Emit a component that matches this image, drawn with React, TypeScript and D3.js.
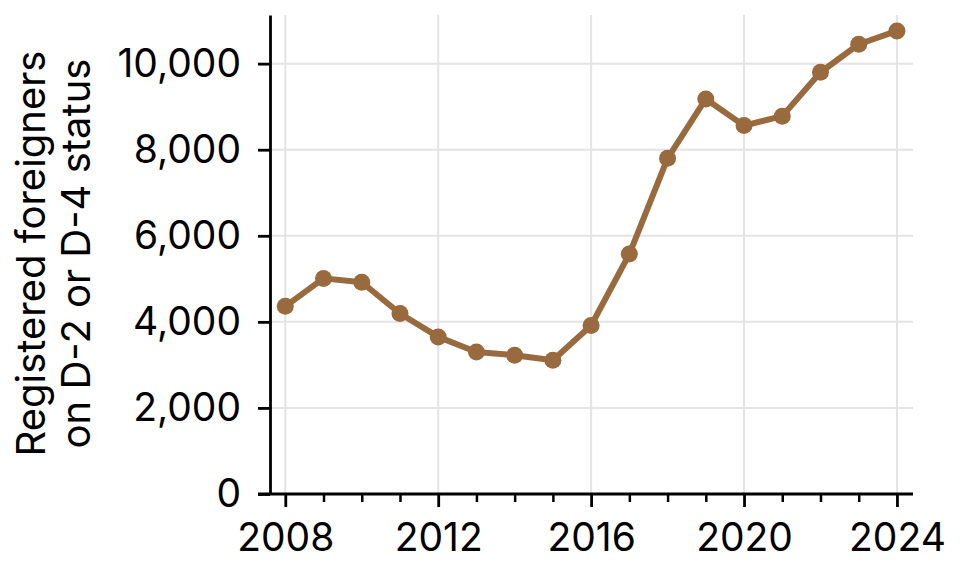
import React, { useRef, useEffect } from "react";
import { select, scaleLinear, axisBottom, axisLeft, line, format, range } from "d3";

const years = [2008, 2009, 2010, 2011, 2012, 2013, 2014, 2015, 2016, 2017, 2018, 2019, 2020, 2021, 2022, 2023, 2024];
const registered = [4360, 5010, 4920, 4195, 3650, 3300, 3225, 3110, 3915, 5575, 7800, 9180, 8560, 8780, 9800, 10450, 10760];
const yearTicks = [2008, 2012, 2016, 2020, 2024];
const valueTicks = [0, 2000, 4000, 6000, 8000, 10000];
const labelLines = ["Registered foreigners", "on D-2 or D-4 status"];

const W = 962;
const H = 576;
const margin = { top: 15, right: 49, bottom: 82, left: 270 };
const FONT = "Inter, 'Noto Sans', sans-serif";
const LINE_COLOR = "#986a3d";

const App: React.FC = () => {
  const svgRef = useRef<SVGSVGElement>(null);

  useEffect(() => {
    const svg = select(svgRef.current);
    svg.selectAll("*").remove();

    const innerWidth = W - margin.left - margin.right;
    const innerHeight = H - margin.top - margin.bottom;

    const x = scaleLinear().domain([2007.6, 2024.42]).range([0, innerWidth]);
    const y = scaleLinear().domain([0, 11130]).range([innerHeight, 0]);

    const g = svg.append("g").attr("transform", `translate(${margin.left},${margin.top})`);

    // grid
    g.append("g")
      .selectAll("line")
      .data(valueTicks.filter((v) => v > 0))
      .join("line")
      .attr("x1", 0)
      .attr("x2", innerWidth)
      .attr("y1", (d) => y(d))
      .attr("y2", (d) => y(d))
      .attr("stroke", "#e4e4e4")
      .attr("stroke-width", 2);
    g.append("g")
      .selectAll("line")
      .data(yearTicks)
      .join("line")
      .attr("x1", (d) => x(d))
      .attr("x2", (d) => x(d))
      .attr("y1", 0)
      .attr("y2", innerHeight)
      .attr("stroke", "#e4e4e4")
      .attr("stroke-width", 2);

    // minor x ticks
    const minor = range(2008, 2025).filter((yr) => !yearTicks.includes(yr));
    g.append("g")
      .attr("transform", `translate(0,${innerHeight})`)
      .call(axisBottom(x).tickValues(minor).tickSize(8).tickFormat(() => ""))
      .call((a) => a.select(".domain").remove())
      .call((a) => a.selectAll("line").attr("stroke", "#000").attr("stroke-width", 2.5));

    // major x axis
    const xAxisG = g
      .append("g")
      .attr("transform", `translate(0,${innerHeight})`)
      .call(axisBottom(x).tickValues(yearTicks).tickSize(13).tickSizeOuter(0).tickPadding(16).tickFormat(format("d")));

    const yAxisG = g
      .append("g")
      .call(axisLeft(y).tickValues(valueTicks).tickSize(12).tickSizeOuter(0).tickPadding(17).tickFormat(format(",")));

    [xAxisG, yAxisG].forEach((axisG) => {
      axisG.selectAll("path, line").attr("stroke", "#000").attr("stroke-width", 2.8);
      axisG.selectAll("text").attr("fill", "#000").attr("font-family", FONT).attr("font-size", 39);
    });
    xAxisG.select(".domain").attr("d", `M-12,0H${innerWidth}`);

    // line
    const lineGen = line<number>()
      .x((_, i) => x(years[i]))
      .y((d) => y(d));
    g.append("path")
      .datum(registered)
      .attr("fill", "none")
      .attr("stroke", LINE_COLOR)
      .attr("stroke-width", 6)
      .attr("stroke-linejoin", "round")
      .attr("d", lineGen);

    g.append("g")
      .selectAll("circle")
      .data(registered)
      .join("circle")
      .attr("cx", (_, i) => x(years[i]))
      .attr("cy", (d) => y(d))
      .attr("r", 8.5)
      .attr("fill", LINE_COLOR);

    // y label
    const label = svg
      .append("text")
      .attr("transform", `translate(45,${margin.top + innerHeight / 2 - 1}) rotate(-90)`)
      .attr("text-anchor", "middle")
      .attr("font-family", FONT)
      .attr("font-size", 40)
      .attr("fill", "#000");
    labelLines.forEach((t, i) => {
      label
        .append("tspan")
        .attr("x", 0)
        .attr("dy", i === 0 ? 0 : 45)
        .text(t);
    });
  }, []);

  return (
    <svg
      ref={svgRef}
      width={W}
      height={H}
      viewBox={`0 0 ${W} ${H}`}
      style={{ position: "absolute", left: 0, top: 0, background: "#fff" }}
    />
  );
};

export default App;
